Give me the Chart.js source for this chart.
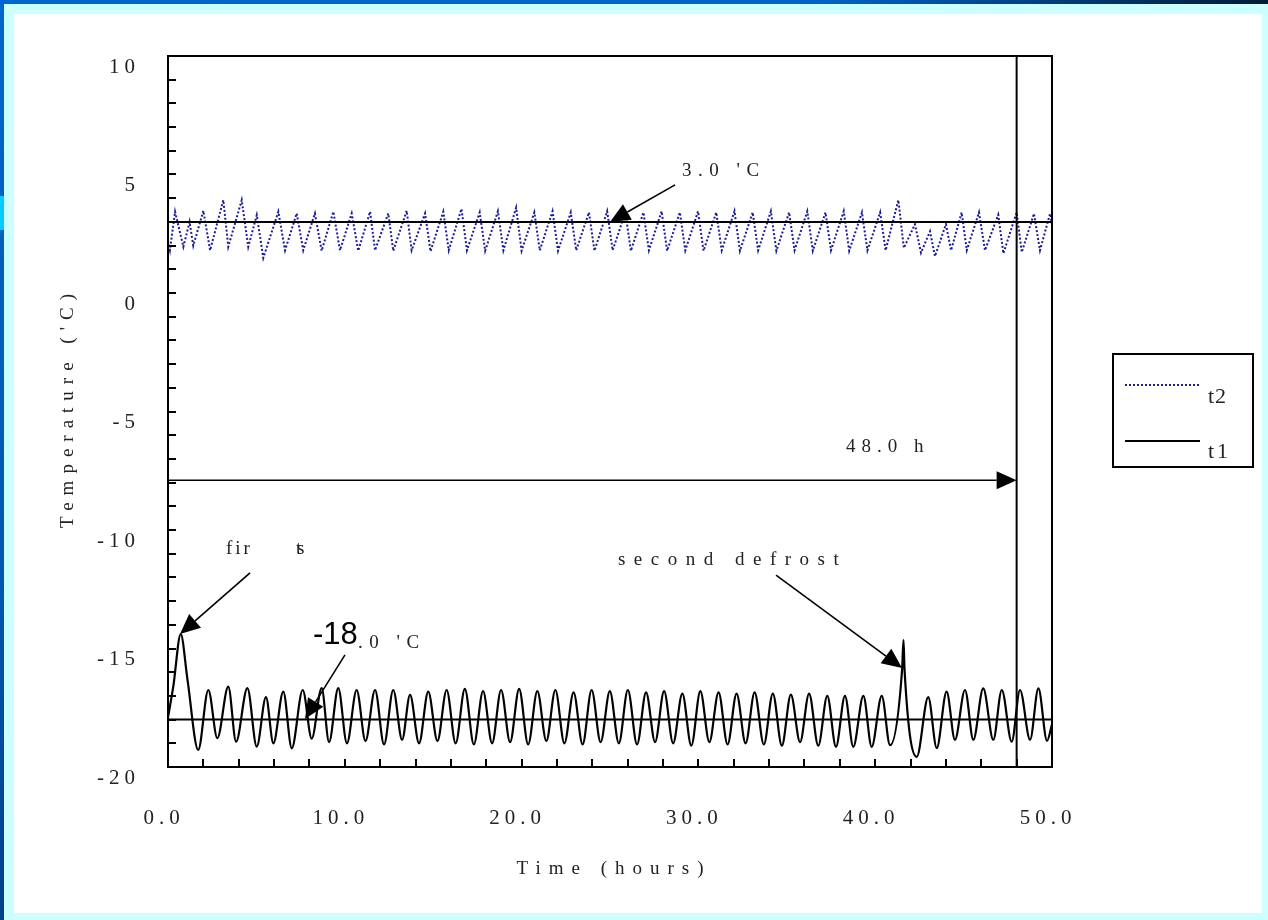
<!DOCTYPE html>
<html>
<head>
<meta charset="utf-8">
<script src="https://cdn.jsdelivr.net/npm/chart.js@4.4.1/dist/chart.umd.min.js"></script>
<style>
  html, body { margin: 0; padding: 0; }
  body { width: 1268px; height: 920px; position: relative; overflow: hidden; background: #ccffff; }
  #bar-top { position: absolute; left: 0; top: 0; width: 1268px; height: 4px;
    background: linear-gradient(to right, #0066cc 0%, #0062c4 65%, #003366 88%, #001a33 100%); }
  #bar-left { position: absolute; left: 0; top: 0; width: 4px; height: 920px;
    background: linear-gradient(to bottom, #0066cc 0%, #0058b0 60%, #00408a 100%); }
  #bar-left-hi { position: absolute; left: 0; top: 196px; width: 4px; height: 34px; background: #00ccff; }
  #sheet { position: absolute; left: 14px; top: 14px; width: 1248px; height: 899px; background: #fff; }
  #chart { position: absolute; left: 0; top: 0; }
</style>
</head>
<body>
<div id="bar-top"></div>
<div id="bar-left"></div>
<div id="bar-left-hi"></div>
<div id="sheet"></div>
<canvas id="chart" width="1268" height="920"></canvas>
<script>
// t1: freezer (solid black), [hours, 'C]
const t1Series = [
  [0.00, -17.9], [0.30, -16.6], [0.72, -14.39], [1.10, -16.3], [1.71, -19.28],
  [2.28, -16.75], [2.79, -18.78], [3.41, -16.61], [3.85, -18.93], [4.49, -16.67],
  [5.02, -19.14], [5.54, -17.05], [5.96, -19.0], [6.52, -16.82], [7.00, -19.21],
  [7.62, -16.75], [8.13, -18.8], [8.69, -16.67], [9.11, -18.95], [9.63, -16.67],
  [10.12, -19.0], [10.67, -16.75], [11.17, -18.9], [11.71, -16.75], [12.22, -19.05],
  [12.74, -16.75], [13.24, -18.85], [13.69, -16.96], [14.20, -19.0], [14.72, -16.82],
  [15.24, -18.9], [15.76, -16.75], [16.27, -19.0], [16.79, -16.7], [17.30, -19.05],
  [17.82, -16.8], [18.33, -19.0], [18.84, -16.75], [19.35, -18.95], [19.86, -16.7],
  [20.37, -19.05], [20.89, -16.8], [21.40, -18.9], [21.91, -16.75], [22.42, -19.0],
  [22.94, -16.85], [23.45, -19.05], [23.96, -16.75], [24.47, -18.95], [24.99, -16.8],
  [25.50, -19.0], [26.01, -16.75], [26.53, -19.05], [27.04, -16.85], [27.55, -18.95],
  [28.06, -16.8], [28.57, -19.0], [29.09, -16.9], [29.60, -19.1], [30.11, -16.8],
  [30.62, -18.95], [31.14, -16.85], [31.65, -19.05], [32.16, -16.9], [32.67, -19.0],
  [33.18, -16.85], [33.70, -19.05], [34.21, -16.9], [34.72, -19.1], [35.23, -16.95],
  [35.75, -18.95], [36.26, -16.9], [36.78, -19.1], [37.29, -17.0], [37.78, -19.15],
  [38.29, -17.0], [38.76, -19.15], [39.33, -17.0], [39.80, -19.15], [40.37, -17.0],
  [40.84, -19.08], [41.52, -15.9], [41.60, -14.65], [41.66, -15.9], [42.35, -19.57],
  [43.00, -17.05], [43.48, -19.2], [44.04, -16.82], [44.51, -18.85], [45.08, -16.75],
  [45.55, -18.85], [46.11, -16.68], [46.68, -18.85], [47.16, -16.75], [47.72, -18.93],
  [48.19, -16.75], [48.76, -18.85], [49.23, -16.68], [49.72, -18.9], [50.00, -18.2]
];

// t2: fridge (blue dotted), [hours, 'C]
const t2Series = [
  [0.00, 2.2], [0.11, 1.81], [0.40, 3.43], [0.87, 1.95], [1.22, 3.0], [1.43, 2.0],
  [2.00, 3.47], [2.38, 1.8], [3.13, 3.92], [3.41, 1.95], [4.17, 3.92], [4.54, 1.95],
  [5.02, 3.29], [5.39, 1.48], [6.24, 3.43], [6.62, 1.8], [7.28, 3.36], [7.65, 1.8],
  [8.31, 3.36], [8.69, 1.78], [9.35, 3.43], [9.73, 1.8], [10.39, 3.36], [10.76, 1.78],
  [11.43, 3.43], [11.71, 1.8], [12.46, 3.36], [12.74, 1.78], [13.50, 3.47], [13.78, 1.8],
  [14.54, 3.36], [14.85, 1.76], [15.57, 3.43], [15.88, 1.8], [16.60, 3.55], [16.91, 1.8],
  [17.63, 3.4], [17.94, 1.78], [18.66, 3.45], [18.97, 1.8], [19.69, 3.6], [20.00, 1.78],
  [20.72, 3.4], [21.03, 1.8], [21.75, 3.45], [22.06, 1.78], [22.78, 3.4], [23.09, 1.8],
  [23.81, 3.4], [24.12, 1.78], [24.84, 3.45], [25.15, 1.8], [25.87, 3.4], [26.18, 1.78],
  [26.89, 3.4], [27.20, 1.8], [27.92, 3.45], [28.23, 1.78], [28.95, 3.4], [29.26, 1.8],
  [29.98, 3.45], [30.29, 1.78], [31.01, 3.4], [31.32, 1.8], [32.04, 3.45], [32.35, 1.78],
  [33.07, 3.4], [33.38, 1.8], [34.10, 3.45], [34.41, 1.78], [35.13, 3.4], [35.44, 1.8],
  [36.16, 3.45], [36.47, 1.78], [37.19, 3.4], [37.50, 1.8], [38.22, 3.45], [38.53, 1.78],
  [39.25, 3.4], [39.56, 1.8], [40.28, 3.4], [40.59, 1.8], [41.31, 3.92], [41.62, 1.9],
  [42.25, 2.9], [42.59, 1.7], [43.10, 2.6], [43.38, 1.55], [44.00, 2.9], [44.29, 1.8],
  [44.89, 3.4], [45.18, 1.8], [45.87, 3.4], [46.21, 1.8], [46.96, 3.3], [47.25, 1.67],
  [48.00, 3.4], [48.29, 1.72], [48.98, 3.35], [49.32, 1.8], [49.89, 3.35], [50.00, 2.9]
];

const setPoints = [3.0, -18.0];     // horizontal set-point lines
const markHours = 48.0;             // vertical end-of-test line
const spanLevel = -7.9;             // level of the 48.0 h span arrow
const xRange = [0, 50];
const yRange = [-20, 10];

const SERIF = '"Liberation Serif", "Times New Roman", serif';
const SANS = '"Liberation Sans", Arial, sans-serif';

function arrow(ctx, x1, y1, x2, y2, len, half) {
  const a = Math.atan2(y2 - y1, x2 - x1);
  const bx = x2 - len * Math.cos(a), by = y2 - len * Math.sin(a);
  ctx.beginPath();
  ctx.moveTo(x1, y1);
  ctx.lineTo(bx, by);
  ctx.stroke();
  ctx.beginPath();
  ctx.moveTo(x2, y2);
  ctx.lineTo(bx + half * Math.sin(a), by - half * Math.cos(a));
  ctx.lineTo(bx - half * Math.sin(a), by + half * Math.cos(a));
  ctx.closePath();
  ctx.fill();
}

function spaced(ctx, text, x, y, size, spacing, family) {
  ctx.font = `${size}px ${family || SERIF}`;
  ctx.letterSpacing = spacing + 'px';
  ctx.fillText(text, x, y);
}

const decorPlugin = {
  id: 'decor',
  beforeDraw(chart) {
    chart.ctx.letterSpacing = '5px';
  },
  afterDatasetsDraw(chart) {
    const { ctx, chartArea: area, scales: { x, y } } = chart;
    ctx.save();
    ctx.strokeStyle = '#000';
    ctx.fillStyle = '#000';
    ctx.lineWidth = 2;

    // set-point lines
    for (const level of setPoints) {
      const py = y.getPixelForValue(level);
      ctx.beginPath();
      ctx.moveTo(area.left, py);
      ctx.lineTo(area.right, py);
      ctx.stroke();
    }
    // 48 h line
    const mx = x.getPixelForValue(markHours);
    ctx.beginPath();
    ctx.moveTo(mx, area.top);
    ctx.lineTo(mx, area.bottom);
    ctx.stroke();

    // frame
    ctx.strokeRect(area.left, area.top, area.right - area.left, area.bottom - area.top);

    // inward tick marks
    for (const t of y.ticks) {
      const py = Math.round(y.getPixelForValue(t.value));
      ctx.beginPath();
      ctx.moveTo(area.left, py);
      ctx.lineTo(area.left + 8, py);
      ctx.stroke();
    }
    for (const t of x.ticks) {
      const px = Math.round(x.getPixelForValue(t.value));
      ctx.beginPath();
      ctx.moveTo(px, area.bottom);
      ctx.lineTo(px, area.bottom - 8);
      ctx.stroke();
    }

    // arrows
    const P = (hx, vy) => [x.getPixelForValue(hx), y.getPixelForValue(vy)];
    ctx.lineWidth = 1.6;
    const arrows = [
      [P(28.68, 4.56), P(25.0, 3.0)],
      [P(0, spanLevel), P(markHours, spanLevel)],
      [P(4.64, -11.81), P(0.68, -14.39)],
      [P(10.01, -15.27), P(7.75, -17.97)],
      [P(34.39, -11.9), P(41.52, -15.82)]
    ];
    for (const [a, b] of arrows) arrow(ctx, a[0], a[1], b[0], b[1], 20, 9);

    // annotation texts
    ctx.textBaseline = 'middle';
    ctx.textAlign = 'left';
    ctx.fillStyle = '#222';
    let p = P(29.07, 5.15); spaced(ctx, "3.0 'C", p[0], p[1], 19, 6.5);
    p = P(38.35, -6.5); spaced(ctx, '48.0 h', p[0], p[1], 19, 6);
    p = P(25.45, -11.27); spaced(ctx, 'second defrost', p[0], p[1], 19, 8.5);
    p = P(3.28, -10.8); spaced(ctx, 'fir', p[0], p[1], 19, 3);
    p = P(7.24, -10.8); spaced(ctx, 't', p[0], p[1], 19, 0); spaced(ctx, 's', p[0] + 1, p[1], 19, 0);
    ctx.fillStyle = '#000';
    p = P(8.2, -14.45); spaced(ctx, '-18', p[0], p[1], 31, 0, SANS);
    ctx.fillStyle = '#222';
    p = P(10.75, -14.75); spaced(ctx, ".0 'C", p[0], p[1], 19, 6.5);
    ctx.restore();
  },
  afterDraw(chart) {
    const { ctx, chartArea: area } = chart;
    ctx.save();
    ctx.fillStyle = '#222';
    ctx.textAlign = 'center';
    ctx.textBaseline = 'middle';
    // axis titles
    spaced(ctx, 'Time (hours)', (area.left + area.right) / 2 + 4, 869, 19, 8);
    ctx.translate(68, (area.top + area.bottom) / 2);
    ctx.rotate(-Math.PI / 2);
    spaced(ctx, "Temperature ('C)", 4, 0, 19, 7);
    ctx.restore();

    // legend box
    ctx.save();
    const lx = 1113, ly = 354;
    ctx.strokeStyle = '#000';
    ctx.lineWidth = 2;
    ctx.strokeRect(lx, ly, 140, 113);
    ctx.strokeStyle = '#1c1c96';
    ctx.setLineDash([2, 2]);
    ctx.lineWidth = 2;
    ctx.beginPath(); ctx.moveTo(lx + 12, ly + 31); ctx.lineTo(lx + 87, ly + 31); ctx.stroke();
    ctx.setLineDash([]);
    ctx.strokeStyle = '#000';
    ctx.beginPath(); ctx.moveTo(lx + 12, ly + 87); ctx.lineTo(lx + 87, ly + 87); ctx.stroke();
    ctx.fillStyle = '#222';
    ctx.textBaseline = 'middle';
    ctx.textAlign = 'left';
    spaced(ctx, 't2', lx + 95, ly + 43, 22, 1);
    spaced(ctx, 't1', lx + 95, ly + 98, 22, 3);
    ctx.restore();
  }
};

const toXY = (s) => s.map(([h, v]) => ({ x: h, y: v }));

new Chart(document.getElementById('chart'), {
  type: 'line',
  data: {
    datasets: [
      {
        label: 't2',
        data: toXY(t2Series),
        borderColor: '#1c1c96',
        borderWidth: 2,
        borderDash: [2, 2],
        pointRadius: 0,
        tension: 0
      },
      {
        label: 't1',
        data: toXY(t1Series),
        borderColor: '#000',
        borderWidth: 2.2,
        pointRadius: 0,
        cubicInterpolationMode: 'monotone'
      }
    ]
  },
  options: {
    responsive: false,
    animation: false,
    events: [],
    layout: { padding: { left: 0, right: 216, top: 56, bottom: 0 } },
    plugins: { legend: { display: false }, tooltip: { enabled: false } },
    scales: {
      x: {
        type: 'linear',
        min: xRange[0],
        max: xRange[1],
        grid: { display: false },
        border: { display: false },
        afterFit: (s) => { s.height = 153; },
        ticks: {
          stepSize: 2,
          autoSkip: false,
          maxRotation: 0,
          padding: 31,
          labelOffset: -4,
          color: '#222',
          font: { family: SERIF, size: 21 },
          callback: (v) => (v % 10 === 0 ? v.toFixed(1) : '')
        }
      },
      y: {
        type: 'linear',
        min: yRange[0],
        max: yRange[1],
        grid: { display: false },
        border: { display: false },
        afterFit: (s) => { s.width = 168; },
        ticks: {
          stepSize: 1,
          autoSkip: false,
          padding: 20,
          labelOffset: 11,
          color: '#222',
          font: { family: SERIF, size: 21 },
          callback: (v) => (v % 5 === 0 ? String(v) : '')
        }
      }
    }
  },
  plugins: [decorPlugin]
});
</script>
</body>
</html>
